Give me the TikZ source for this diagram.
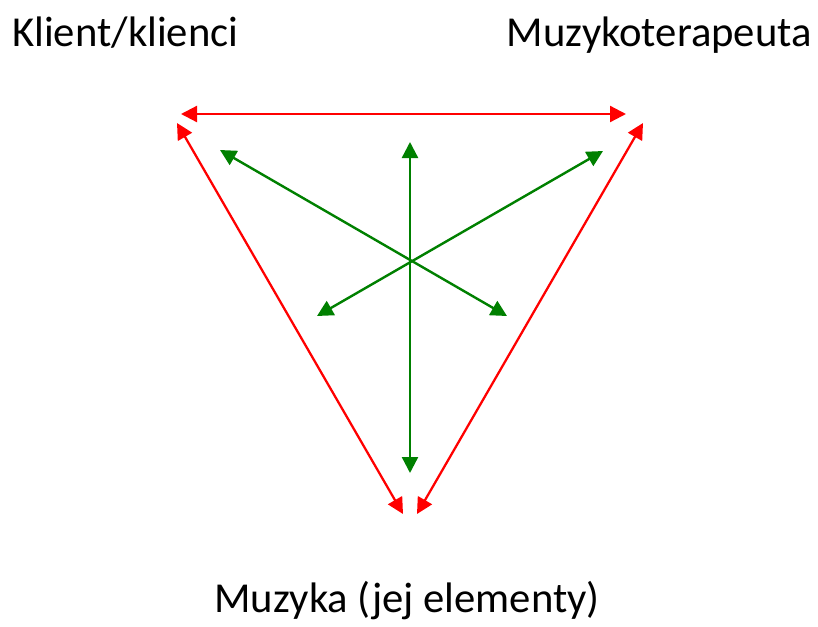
\documentclass[tikz,border=0pt]{standalone}
\usepackage{fontspec}
\setmainfont{Carlito}
\usetikzlibrary{arrows.meta}
\begin{document}
\begin{tikzpicture}[x=0.75pt,y=-0.75pt,
  redarr/.style={draw={rgb,255:red,255;green,0;blue,0}, line width=1.7pt, {Triangle[length=12pt,width=12pt]}-{Triangle[length=12pt,width=12pt]}},
  greenarr/.style={draw={rgb,255:red,0;green,128;blue,0}, line width=1.8pt, {Triangle[length=12pt,width=12pt]}-{Triangle[length=12pt,width=12pt]}},
  lbl/.style={font=\fontsize{32}{38}\selectfont, inner sep=0pt}]
\useasboundingbox (0,0) rectangle (818,626);
\node[lbl, anchor=base west] (klient) at (12,46) {Klient/klienci};
\node[lbl, anchor=base east] (terap) at (812,46) {Muzykoterapeuta};
\node[lbl, anchor=base] (muz) at (407,612) {Muzyka (jej elementy)};
% red triangle ends
\coordinate (tl) at (181,114);
\coordinate (tr) at (626,114);
\coordinate (ls) at (177,123);
\coordinate (le) at (403,514);
\coordinate (rs) at (643,123);
\coordinate (re) at (417,514);
% green ends
\coordinate (vt) at (410,142);
\coordinate (vb) at (410,473);
\coordinate (ul) at (220,150);
\coordinate (lr) at (507,316);
\coordinate (ll) at (317,316);
\coordinate (ur) at (603,151);
\draw[redarr] (tl) -- (tr);
\draw[redarr] (ls) -- (le);
\draw[redarr] (rs) -- (re);
\draw[greenarr] (vt) -- (vb);
\draw[greenarr] (ul) -- (lr);
\draw[greenarr] (ll) -- (ur);
\end{tikzpicture}
\end{document}
